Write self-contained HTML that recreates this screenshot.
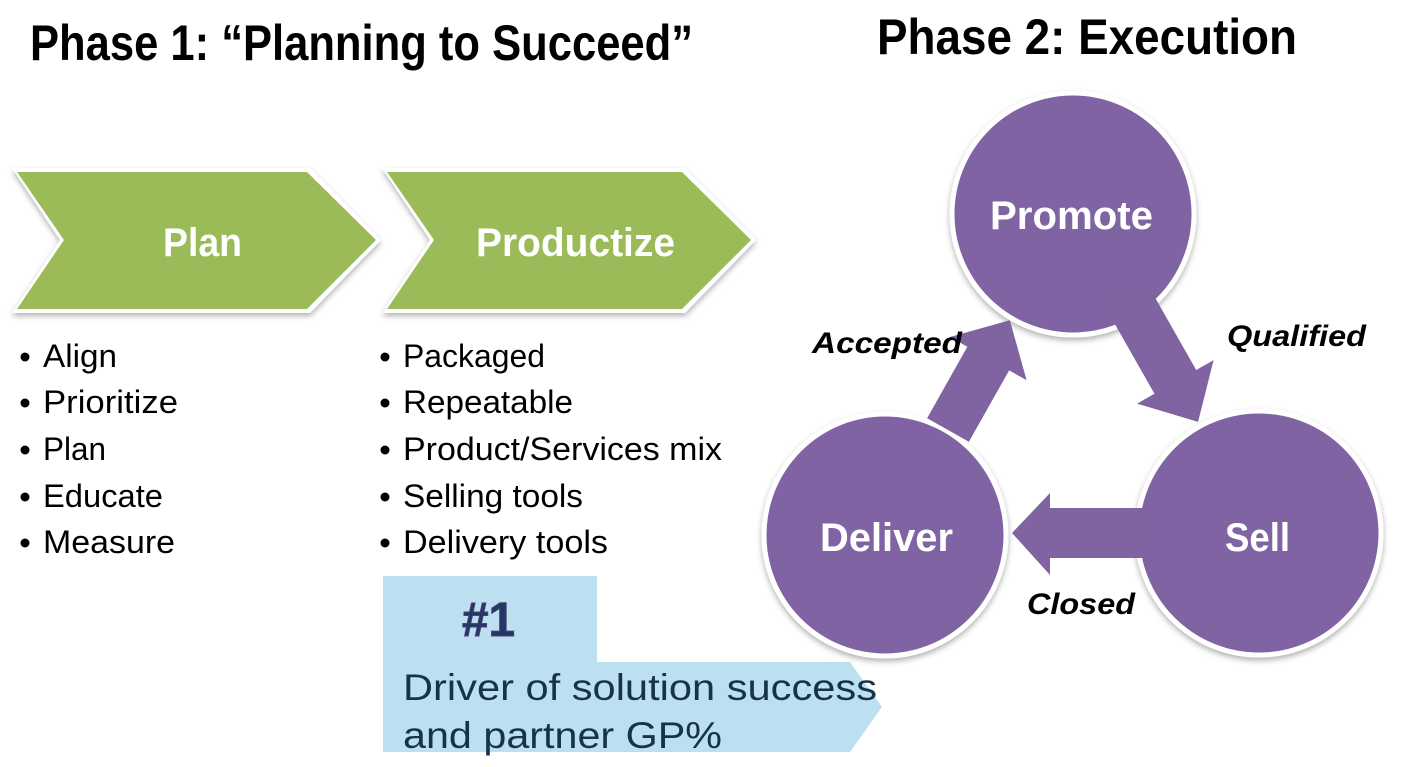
<!DOCTYPE html>
<html><head><meta charset="utf-8"><style>
html,body{margin:0;padding:0;background:#fff;}
svg{display:block;}
</style></head><body>
<svg width="1407" height="767" viewBox="0 0 1407 767" xmlns="http://www.w3.org/2000/svg">
<defs>
<filter id="sh" x="-20%" y="-20%" width="140%" height="140%">
<feDropShadow dx="0" dy="3" stdDeviation="3" flood-color="#000" flood-opacity="0.3"/>
</filter>
</defs>
<g font-family="'Liberation Sans', sans-serif">
<text x="30" y="60" font-size="50" font-weight="bold" textLength="663" lengthAdjust="spacingAndGlyphs">Phase 1: “Planning to Succeed”</text>
<text x="877" y="54" font-size="50" font-weight="bold" textLength="420" lengthAdjust="spacingAndGlyphs">Phase 2: Execution</text>

<!-- chevrons -->
<polygon points="12,168 310,168 381,240 310,313 12,313 60,240" fill="#fff" filter="url(#sh)"/>
<polygon points="17,172 307,172 376,240 307,309 17,309 64,240" fill="#9bbb59"/>
<polygon points="382,168 685,168 756,240 685,313 382,313 430,240" fill="#fff" filter="url(#sh)"/>
<polygon points="387,172 682,172 751,240 682,309 387,309 434,240" fill="#9bbb59"/>
<text x="163" y="256" font-size="40" font-weight="bold" fill="#fff" textLength="79" lengthAdjust="spacingAndGlyphs">Plan</text>
<text x="476" y="256" font-size="40" font-weight="bold" fill="#fff" textLength="199" lengthAdjust="spacingAndGlyphs">Productize</text>

<!-- bullets -->
<g font-size="32" fill="#000">
<g fill="#000">
<circle cx="25" cy="357" r="4.5"/><circle cx="25" cy="403" r="4.5"/><circle cx="25" cy="450" r="4.5"/><circle cx="25" cy="497" r="4.5"/><circle cx="25" cy="543" r="4.5"/>
<circle cx="385" cy="357" r="4.5"/><circle cx="385" cy="403" r="4.5"/><circle cx="385" cy="450" r="4.5"/><circle cx="385" cy="497" r="4.5"/><circle cx="385" cy="543" r="4.5"/>
</g>
<text x="43" y="367" textLength="74" lengthAdjust="spacingAndGlyphs">Align</text>
<text x="43" y="413" textLength="135" lengthAdjust="spacingAndGlyphs">Prioritize</text>
<text x="43" y="460" textLength="63" lengthAdjust="spacingAndGlyphs">Plan</text>
<text x="43" y="507" textLength="120" lengthAdjust="spacingAndGlyphs">Educate</text>
<text x="43" y="553" textLength="132" lengthAdjust="spacingAndGlyphs">Measure</text>
<text x="403" y="367" textLength="142" lengthAdjust="spacingAndGlyphs">Packaged</text>
<text x="403" y="413" textLength="170" lengthAdjust="spacingAndGlyphs">Repeatable</text>
<text x="403" y="460" textLength="319" lengthAdjust="spacingAndGlyphs">Product/Services mix</text>
<text x="403" y="507" textLength="180" lengthAdjust="spacingAndGlyphs">Selling tools</text>
<text x="403" y="553" textLength="205" lengthAdjust="spacingAndGlyphs">Delivery tools</text>
</g>

<!-- callout -->
<polygon points="383,576 597,576 597,662 850,662 882,707 850,752 383,752" fill="#bde0f0"/>
<text x="462" y="636" font-size="48" font-weight="bold" fill="#1f3864" stroke="#5b3a7a" stroke-width="1" textLength="53" lengthAdjust="spacingAndGlyphs">#1</text>
<text x="403" y="700" font-size="37" fill="#17324d" textLength="474" lengthAdjust="spacingAndGlyphs">Driver of solution success</text>
<text x="403" y="748" font-size="37" fill="#17324d" textLength="319" lengthAdjust="spacingAndGlyphs">and partner GP%</text>

<!-- circles -->
<g filter="url(#sh)">
<circle cx="1073" cy="214" r="121" fill="#8064a2" stroke="#fff" stroke-width="5"/>
<circle cx="885" cy="535" r="121" fill="#8064a2" stroke="#fff" stroke-width="5"/>
<circle cx="1259" cy="533" r="122" fill="#8064a2" stroke="#fff" stroke-width="5"/>
</g>

<!-- arrows -->
<g fill="#8064a2">
<g transform="translate(948,430) rotate(-60.6)">
<polygon points="0,-24 82,-24 82,-44 126,0 82,44 82,24 0,24"/>
</g>
<g transform="translate(1122,288) rotate(60.4)">
<polygon points="0,-24 108,-24 108,-44 154,0 108,44 108,24 0,24"/>
</g>
<polygon points="1143,508 1050,508 1050,493 1012,533 1050,575 1050,558 1143,558"/>
</g>

<g font-size="40" font-weight="bold" fill="#fff">
<text x="990" y="229" textLength="163" lengthAdjust="spacingAndGlyphs">Promote</text>
<text x="820" y="551" textLength="133" lengthAdjust="spacingAndGlyphs">Deliver</text>
<text x="1225" y="551" textLength="65" lengthAdjust="spacingAndGlyphs">Sell</text>
</g>
<g font-size="30" font-weight="bold" font-style="italic" fill="#000">
<text x="812" y="353" textLength="150" lengthAdjust="spacingAndGlyphs">Accepted</text>
<text x="1227" y="346" textLength="139" lengthAdjust="spacingAndGlyphs">Qualified</text>
<text x="1027" y="614" textLength="108" lengthAdjust="spacingAndGlyphs">Closed</text>
</g>
</g>
</svg>
</body></html>
